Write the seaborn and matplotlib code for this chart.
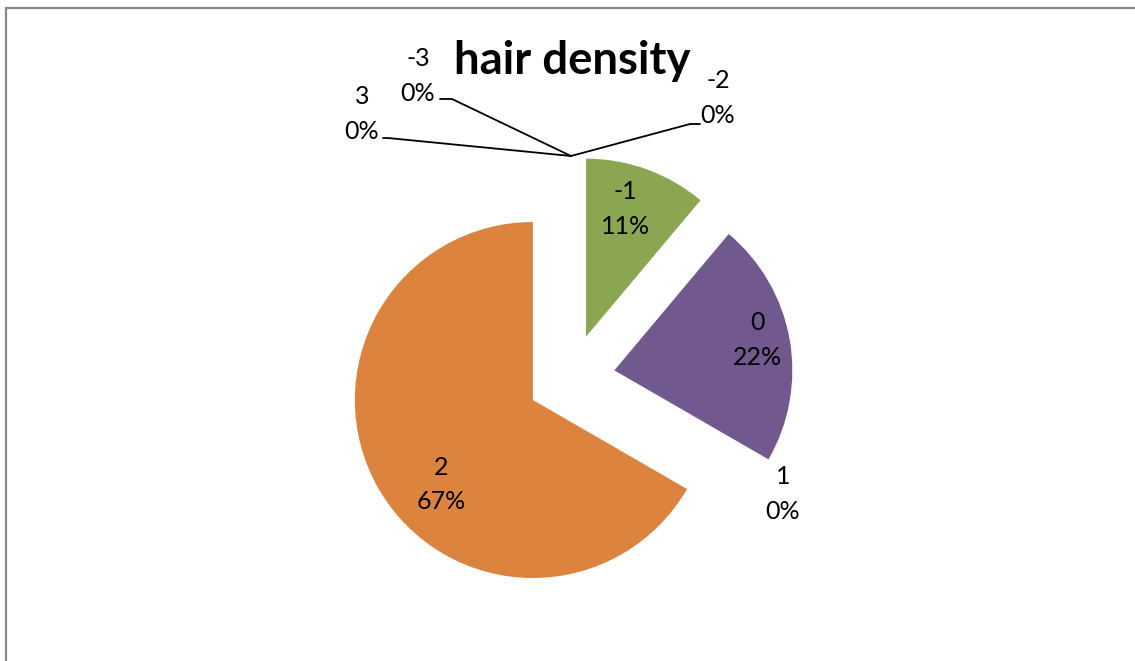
import numpy as np
import matplotlib
matplotlib.use("Agg")
import matplotlib.pyplot as plt
import seaborn as sns
from matplotlib.patches import Rectangle

# ---- data ----
categories = ["-3", "-2", "-1", "0", "1", "2", "3"]
counts = [0, 0, 1, 2, 0, 6, 0]
colors = ["#4A7EBB", "#BE4B48", "#8BA650", "#71588F", "#46AAC5", "#DC843D", "#4A7EBB"]
title = "hair density"

sns.set_theme(style="white")
plt.rcParams["font.family"] = ["Lato", "DejaVu Sans"]

W, H = 1135, 661
fig = plt.figure(figsize=(W / 100, H / 100), dpi=100)
ax = fig.add_axes([0, 0, 1, 1])

cx, cy, R = 571, H - 378, 178
off = 44  # explode offset in data units
total = sum(counts)
pcts = [c / total for c in counts]

wedges, _ = ax.pie(counts, colors=colors, startangle=90, counterclock=False,
                   explode=[off] * len(counts), radius=R, center=(cx, cy),
                   wedgeprops=dict(linewidth=0), frame=True)
ax.set_xlim(0, W)
ax.set_ylim(0, H)
ax.set_aspect("equal")
ax.axis("off")

fs = 18
ls = 1.6
# inside labels for non-zero slices: (distance from wedge tip in radii, angle shift in deg)
label_place = {"-1": (0.75, 3), "0": (0.82, 2), "2": (0.70, 12.7)}
ang = 90.0
for cat, p in zip(categories, pcts):
    a0 = ang
    ang = ang - p * 360
    mid = np.deg2rad((a0 + ang) / 2)
    txt = f"{cat}\n{p:.0%}"
    if p > 0:
        frac, shift = label_place[cat]
        tipx, tipy = cx + off * np.cos(mid), cy + off * np.sin(mid)
        la = mid + np.deg2rad(shift)
        d = R * frac
        ax.text(tipx + d * np.cos(la), tipy + d * np.sin(la), txt, ha="center", va="center",
                fontsize=fs, linespacing=ls, color="black")

# zero-slice labels with leader lines (apex at exploded outer point)
apex_top = (cx, cy + R + off)
zero_lbls = {
    "-3": dict(pos=(418, 76), stub=[(452, 99), (440, 99)]),
    "-2": dict(pos=(718, 98), stub=[(690, 124), (700, 124)]),
    "3": dict(pos=(362, 114), stub=[(388, 138), (383, 138)]),
    "1": dict(pos=(783, 494), stub=None),
}
for cat, p in zip(categories, pcts):
    if p == 0 and cat in zero_lbls:
        info = zero_lbls[cat]
        x, y = info["pos"]
        ax.text(x, H - y, f"{cat}\n{p:.0%}", ha="center", va="center",
                fontsize=fs, linespacing=ls, color="black")
        if info["stub"]:
            (x1, y1), (x2, y2) = info["stub"]
            ax.plot([apex_top[0], x1, x2], [apex_top[1], H - y1, H - y2],
                    color="black", lw=1.3, solid_joinstyle="miter")

fig.text(572 / W, 1 - 61 / H, title, ha="center", va="center",
         fontsize=32.8, fontweight="bold", color="black")

# chart frame (left & top visible)
fig.add_artist(Rectangle((5.5 / W, -0.1), 1.2, 1 - 8 / H + 0.1, transform=fig.transFigure,
                         fill=False, edgecolor="#888888", lw=1.6))

fig.savefig("out.png", dpi=100, facecolor="white")
